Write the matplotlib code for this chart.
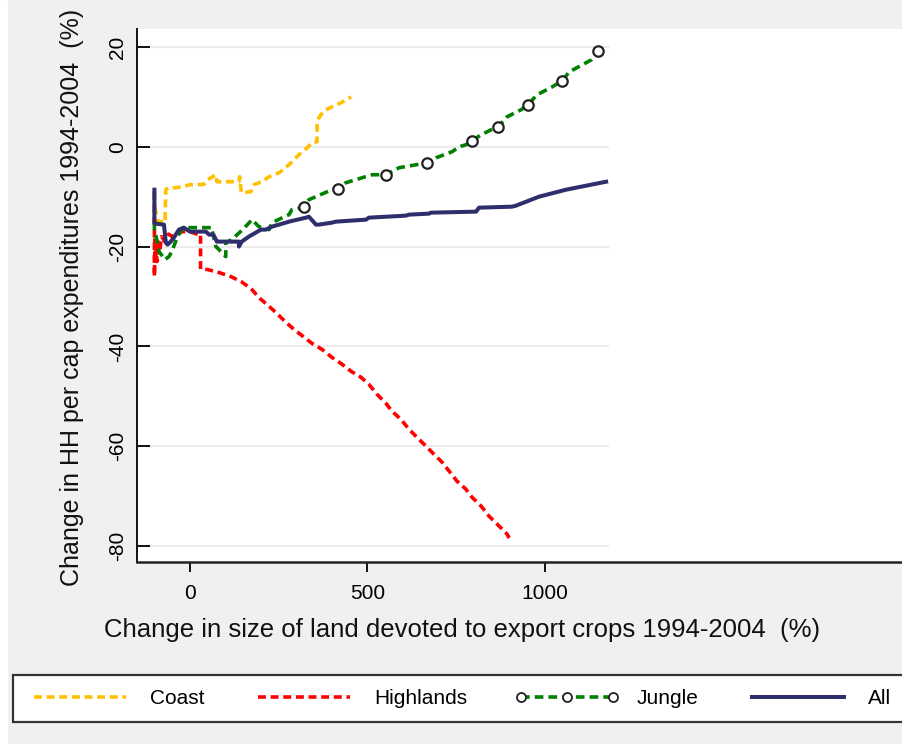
import numpy as np
import matplotlib
matplotlib.use("Agg")
import matplotlib.pyplot as plt
from matplotlib.lines import Line2D
from matplotlib.patches import Rectangle

plt.rcParams['font.family'] = ['Liberation Sans', 'DejaVu Sans']

# ---------------- data ----------------
coast_x = [-100, -96, -90, -80, -70, -68, -60, -40, -20, 0, 20, 40, 50, 73, 76, 90, 110, 138, 140,
           145, 172, 180, 203, 223, 251, 279, 307, 330, 344, 358, 358, 363, 377, 400, 425, 454]
coast_y = [-12, -13, -15, -15, -15.2, -8.6, -8.2, -8.2, -8, -7.6, -7.6, -7.5, -6.6, -5.6, -7, -7, -7, -7, -6,
           -9.2, -9, -7.6, -7, -6, -5.2, -3.6, -1.6, -0.2, 0.8, 1, 4.8, 5.8, 7.2, 8, 8.8, 10]

high_x = [-100, -100, -98, -97, -95, -93, -90, -85, -80, -70, -60, -50, -40, -20, 0, 20, 30, 30,
          50, 82, 115, 144, 172, 194, 217, 242, 268, 293, 315, 344, 372, 400, 425, 454, 482, 504,
          527, 552, 569, 594, 617, 639, 665, 687, 710, 730, 752, 777, 794, 820, 842, 865, 893, 899]
high_y = [-9, -26, -18, -22, -20, -23, -19, -21, -18, -19, -17.5, -18, -17.5, -17, -17, -17.5, -17.5, -24.5,
          -24.6, -25.2, -26, -27, -28.4, -30.2, -31.6, -33.2, -35, -36.6, -37.8, -39.4, -40.6, -42.2, -43.4, -45, -46.2, -47.6,
          -49.6, -51.4, -53, -54.6, -56.6, -58.2, -60, -61.6, -63.2, -65, -67, -68.6, -70.2, -72, -74, -75.6, -77.6, -78.4]

jungle_x = [-100, -100, -95, -87, -70, -59, -51, -35, -23, -11, 20, 62, 62, 73, 82, 101, 101, 118, 150,
            175, 194, 223, 231, 279, 287, 315, 321, 335, 400, 417, 439, 513, 552, 589, 637, 668, 693,
            738, 758, 777, 794, 820, 848, 868, 893, 932, 952, 977, 1020, 1048, 1068, 1130, 1149]
jungle_y = [-15, -16.6, -18, -21, -22.6, -22, -21, -18, -16.6, -16.2, -16.2, -16.2, -16.6, -20, -20.6, -22, -19.2, -18.6, -16.5,
            -14.6, -16, -16.6, -15.2, -13.6, -12.6, -12.2, -12, -10.6, -8.6, -8.4, -7.2, -5.6, -5.6, -4.2, -3.6, -3.2, -2.2,
            -1, 0, 0.4, 1.2, 2.4, 3.4, 4, 6, 7.4, 8.4, 10.4, 12, 13.2, 15, 17.4, 19.2]
jungle_marker_x = [321, 417, 552, 668, 794, 868, 952, 1048, 1149]

all_x = [-100, -100, -97, -73, -68, -63, -54, -45, -31, -17, 0, 25, 45, 54, 66, 76, 82, 138, 138, 146, 166,
         200, 214, 231, 270, 279, 327, 335, 355, 363, 400, 411, 496, 504, 608, 617, 673, 679, 806, 814, 907,
         918, 983, 1059, 1172]
all_y = [-8.6, -15.2, -15.4, -15.6, -19.2, -19.6, -19, -18.2, -16.6, -16.2, -17, -17, -17, -17.6, -17.6, -19, -19, -19, -20, -19, -18,
         -16.6, -16.6, -16, -15.2, -15, -14.2, -14, -15.6, -15.6, -15.2, -15, -14.6, -14.2, -13.8, -13.6, -13.4, -13.2, -13, -12.2, -12,
         -11.8, -10, -8.6, -7]

x_ticks = [0, 500, 1000]
y_ticks = [-80, -60, -40, -20, 0, 20]
series_labels = ["Coast", "Highlands", "Jungle", "All"]

# ---------------- colours / style ----------------
c_coast = "#ffc000"
c_high = "#ff0000"
c_jungle = "#008000"
c_all = "#2e2e6c"

W, H = 903, 744
fig = plt.figure(figsize=(W / 100, H / 100), dpi=100)
fig.patch.set_facecolor("#f0f0f0")
fig.patches.append(Rectangle((0, 0), 7 / W, 1, transform=fig.transFigure, color="white", zorder=0))

ax = fig.add_axes([137 / W, (H - 562) / H, (W - 137) / W, (562 - 29) / H])
ax.set_facecolor("white")
ax.set_xlim(-149, 2008)
ax.set_ylim(-83.2, 23.6)

for yt in y_ticks:
    ax.axhline(yt, xmin=0, xmax=(608 - 137) / (W - 137), color="#ebebeb", lw=1.5, zorder=1)

lw = 2.6
dash = (0, (2.2, 1.3))
l_coast, = ax.plot(coast_x, coast_y, color=c_coast, lw=lw, ls=dash, zorder=3)
l_high, = ax.plot(high_x, high_y, color=c_high, lw=lw, ls=dash, zorder=3)
mk_idx = [int(np.where(np.array(jungle_x) == mx)[0][0]) for mx in jungle_marker_x]
ax.plot(jungle_x, jungle_y, color=c_jungle, lw=lw, ls=(0, (2.4, 1.4)), zorder=4)
ax.plot(np.array(jungle_x)[mk_idx], np.array(jungle_y)[mk_idx], ls="none", marker="o", ms=7.5,
        mfc="white", mec="#222222", mew=1.6, zorder=6)
l_all, = ax.plot(all_x, all_y, color=c_all, lw=lw + 0.3, ls="-", zorder=5)

ax.set_xticks(x_ticks)
ax.set_yticks(y_ticks)
ax.set_xticklabels([str(v) for v in x_ticks])
ax.set_yticklabels([str(v) for v in y_ticks], rotation=90, va="center")
ax.tick_params(axis="x", direction="out", length=7, width=1.3, pad=9, labelsize=15, colors="black")
ax.tick_params(axis="y", direction="in", length=9.5, width=1.3, pad=7, labelsize=15, colors="black")

for s in ["top", "right"]:
    ax.spines[s].set_visible(False)
ax.spines["left"].set_linewidth(1.4)
ax.spines["bottom"].set_linewidth(1.8)
ax.spines["left"].set_color("#111111")
ax.spines["bottom"].set_color("#222222")

fig.text(462 / W, (H - 630) / H, "Change in size of land devoted to export crops 1994-2004  (%)",
         ha="center", va="center", fontsize=18.5, color="#111111")
fig.text(72 / W, (H - 297) / H, "Change in HH per cap expenditures 1994-2004  (%)",
         ha="center", va="center", rotation=90, fontsize=18, color="#111111")

# legend frame (extends past the right edge, as in the reference)
fig.patches.append(Rectangle((13 / W, (H - 722) / H), (920 - 13) / W, 47 / H,
                             transform=fig.transFigure, facecolor="white",
                             edgecolor="#333333", lw=1.6, zorder=1))

h_jungle = Line2D([], [], color=c_jungle, lw=lw, ls=(0, (2.4, 1.4)), marker="o", ms=6.5,
                  mfc="white", mec="#222222", mew=1.3)
leg = fig.legend([l_coast, l_high, h_jungle, l_all], series_labels,
                 loc="center left", bbox_to_anchor=(28 / W, (H - 712) / H, (891 - 28) / W, 26 / H),
                 mode="expand", ncol=4, fontsize=15, handlelength=5.0, handletextpad=0.85,
                 numpoints=3, frameon=False, borderaxespad=0, borderpad=0)
leg.set_zorder(5)

fig.savefig("out.png", dpi=100, facecolor=fig.get_facecolor())
